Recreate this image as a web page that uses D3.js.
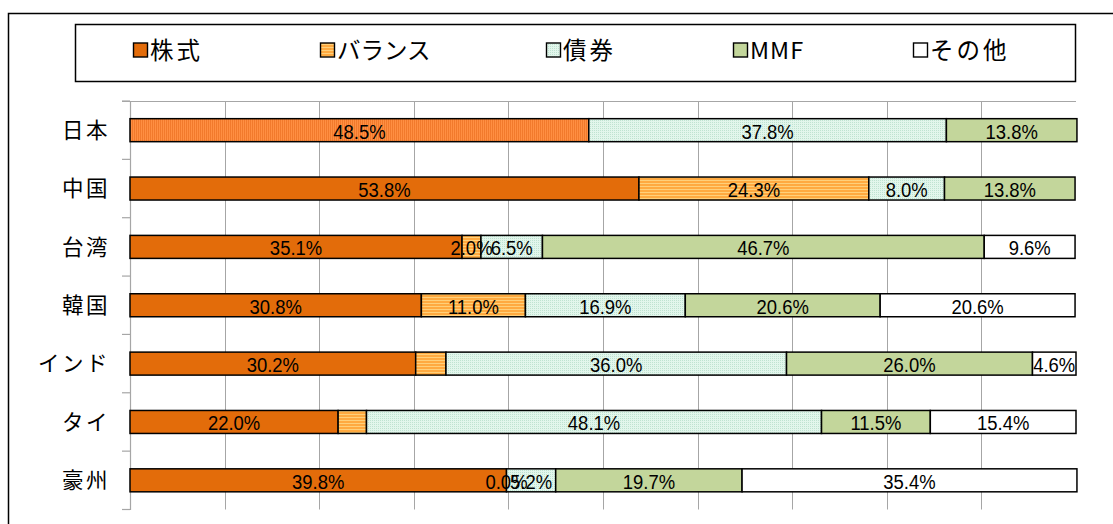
<!DOCTYPE html>
<html>
<head>
<meta charset="utf-8">
<script src="https://cdn.jsdelivr.net/npm/d3@7"></script>
<style>
  html, body { margin: 0; padding: 0; background: #fff; }
  svg { display: block; }
</style>
</head>
<body>
<svg id="chart" width="1113" height="524"></svg>
<script>
// ---- data ----
const categories = ["日本", "中国", "台湾", "韓国", "インド", "タイ", "豪州"];
const seriesNames = ["株式", "バランス", "債券", "MMF", "その他"];
const stocks   = [48.5, 53.8, 35.1, 30.8, 30.2, 22.0, 39.8];
const balanced = [0.0, 24.3, 2.0, 11.0, 3.2, 3.0, 0.0];
const bonds    = [37.8, 8.0, 6.5, 16.9, 36.0, 48.1, 5.2];
const mmf      = [13.8, 13.8, 46.7, 20.6, 26.0, 11.5, 19.7];
const others   = [0.0, 0.0, 9.6, 20.6, 4.6, 15.4, 35.4];
const valueTicks = [0, 10, 20, 30, 40, 50, 60, 70, 80, 90, 100];
// data labels that are not shown in the original chart
const hiddenLabels = [["日本", "バランス"], ["日本", "その他"], ["中国", "その他"], ["インド", "バランス"], ["タイ", "バランス"]];

const seriesValues = [stocks, balanced, bonds, mmf, others];
const table = categories.map((c, i) => {
  const row = { category: c };
  seriesNames.forEach((s, j) => row[s] = seriesValues[j][i]);
  return row;
});

// ---- layout ----
const W = 1113, H = 524;
const plot = { left: 130, right: 1076, top: 101, bottom: 509.5 };
const svg = d3.select("#chart");
svg.append("rect").attr("width", W).attr("height", H).attr("fill", "#fff");

// patterns
const defs = svg.append("defs");
const pJp = defs.append("pattern").attr("id", "pStockJp").attr("patternUnits", "userSpaceOnUse")
  .attr("width", 2).attr("height", 2);
pJp.append("rect").attr("width", 2).attr("height", 2).attr("fill", "#FF8F42");
pJp.append("rect").attr("width", 1).attr("height", 2).attr("fill", "#F27A2C");

const pBal = defs.append("pattern").attr("id", "pBal").attr("patternUnits", "userSpaceOnUse")
  .attr("width", 3).attr("height", 3);
pBal.append("rect").attr("width", 3).attr("height", 3).attr("fill", "#FFAA40");
pBal.append("rect").attr("width", 3).attr("height", 1).attr("fill", "#FFD07A");

const pBond = defs.append("pattern").attr("id", "pBond").attr("patternUnits", "userSpaceOnUse")
  .attr("width", 2).attr("height", 2);
pBond.append("rect").attr("width", 2).attr("height", 2).attr("fill", "#E2F6EC");
pBond.append("rect").attr("width", 1).attr("height", 1).attr("fill", "#BFE3D1");

const fills = {
  "株式": "#E36C0A",
  "バランス": "url(#pBal)",
  "債券": "url(#pBond)",
  "MMF": "#C3D69B",
  "その他": "#FFFFFF"
};

// outer frame
svg.append("rect").attr("x", 8.5).attr("y", 13.5).attr("width", 1130).attr("height", 540)
  .attr("fill", "none").attr("stroke", "#000").attr("stroke-width", 1.5);

// legend
svg.append("rect").attr("x", 75.5).attr("y", 24.5).attr("width", 1000).attr("height", 57)
  .attr("fill", "#fff").attr("stroke", "#000").attr("stroke-width", 1.5);
const legendX = [133, 320, 546, 733, 913];
const lg = svg.append("g").selectAll("g").data(seriesNames).join("g")
  .attr("transform", (d, i) => `translate(${legendX[i]},50)`);
lg.append("rect").attr("x", 0.5).attr("y", -7).attr("width", 14).attr("height", 14)
  .attr("fill", d => fills[d]).attr("stroke", "#000").attr("stroke-width", 1.4);
lg.append("text").attr("x", 17).attr("y", 1).attr("dy", "0.36em")
  .attr("font-family", "'Noto Sans CJK JP', sans-serif").attr("font-size", 23.5)
  .attr("letter-spacing", d => d === "バランス" ? 0 : (d === "MMF" ? 1 : 3))
  .attr("fill", "#000").text(d => d);

// scales
const x = d3.scaleLinear().domain([0, 100]).range([plot.left, plot.right]);
const y = d3.scaleBand().domain(categories).range([plot.top, plot.bottom])
  .paddingInner(0.606).paddingOuter(0.303);

// gridlines
svg.append("g").selectAll("line").data(valueTicks.filter(v => v > 0 && v < 100)).join("line")
  .attr("x1", d => Math.round(x(d)) + 0.5).attr("x2", d => Math.round(x(d)) + 0.5)
  .attr("y1", plot.top).attr("y2", plot.bottom)
  .attr("stroke", "#A6A6A6").attr("stroke-width", 1);
// top border line
svg.append("line").attr("x1", plot.left - 8).attr("x2", plot.right)
  .attr("y1", plot.top + 0.5).attr("y2", plot.top + 0.5)
  .attr("stroke", "#A6A6A6").attr("stroke-width", 1.2);

// category axis
const yAxis = svg.append("g").attr("transform", `translate(${plot.left},0)`)
  .call(d3.axisLeft(y).tickSize(0).tickPadding(20));
yAxis.select(".domain").attr("stroke", "#A6A6A6").attr("stroke-width", 1.2);
yAxis.selectAll("text").attr("font-family", "'Noto Sans CJK JP', sans-serif")
  .attr("font-size", 21.5).attr("letter-spacing", 2.5).attr("fill", "#000").attr("dy", "0.36em");
const step = y.step();
svg.append("g").selectAll("line").data(d3.range(categories.length + 1)).join("line")
  .attr("x1", plot.left - 8).attr("x2", plot.left)
  .attr("y1", d => plot.top + d * step).attr("y2", d => plot.top + d * step)
  .attr("stroke", "#A6A6A6").attr("stroke-width", 1.2);

// bars
const stacked = d3.stack().keys(seriesNames)(table);
const barG = svg.append("g");
stacked.forEach(layer => {
  const key = layer.key;
  barG.append("g").selectAll("rect").data(layer.filter(d => d[1] - d[0] > 0)).join("rect")
    .attr("x", d => x(d[0]))
    .attr("width", d => x(d[1]) - x(d[0]))
    .attr("y", d => y(d.data.category))
    .attr("height", y.bandwidth())
    .attr("fill", d => (key === "株式" && d.data.category === "日本") ? "url(#pStockJp)" : fills[key])
    .attr("stroke", "#000").attr("stroke-width", 1.5);
});

// data labels
const fmt = d3.format(".1f");
const isHidden = (c, s) => hiddenLabels.some(h => h[0] === c && h[1] === s);
const labG = svg.append("g");
stacked.forEach(layer => {
  const key = layer.key;
  labG.append("g").selectAll("text")
    .data(layer.filter(d => !isHidden(d.data.category, key)))
    .join("text")
    .attr("transform", d => `translate(${(x(d[0]) + x(d[1])) / 2},${y(d.data.category) + y.bandwidth() / 2 + 1}) scale(0.9,1)`)
    .attr("text-anchor", "middle").attr("dy", "0.36em")
    .attr("font-family", "'Liberation Sans', Arial, sans-serif").attr("font-size", 20.5)
    .attr("fill", "#000")
    .text(d => fmt(d[1] - d[0]) + "%");
});
</script>
</body>
</html>
